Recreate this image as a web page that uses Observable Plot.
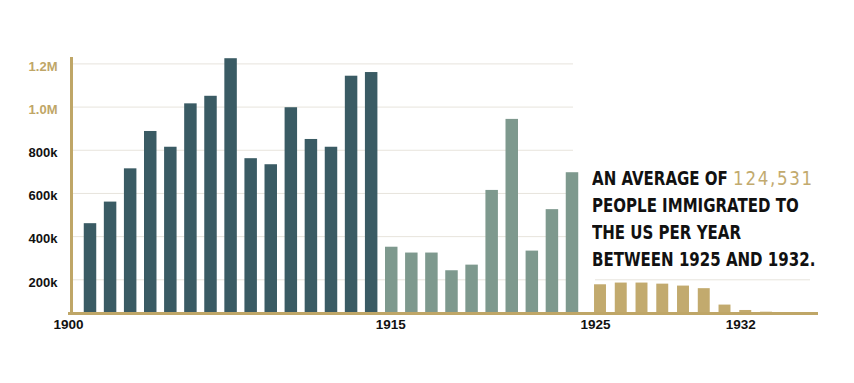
<!DOCTYPE html>
<html>
<head>
<meta charset="utf-8">
<script src="https://cdn.jsdelivr.net/npm/d3@7"></script>
<script src="https://cdn.jsdelivr.net/npm/@observablehq/plot@0.6"></script>
<style>
  html, body { margin: 0; padding: 0; background: #fff; }
  #wrap { position: relative; width: 854px; height: 383px; overflow: hidden; background: #fff; }
  #wrap svg { position: absolute; left: 0; top: 0; }
  #note {
    position: absolute; left: 592px; top: 165.4px;
    font-family: "DejaVu Sans Condensed", "DejaVu Sans", sans-serif;
    font-weight: 700; font-size: 20px; line-height: 27px; color: #111;
    white-space: nowrap;
    transform: scaleX(0.835); transform-origin: 0 0;
  }
  #note .num { font-family: "DejaVu Sans", sans-serif; color: #c2aa6e; font-weight: 400; letter-spacing: 2px; }
</style>
</head>
<body>
<div id="wrap">
  <div id="note">AN AVERAGE OF <span class="num">124,531</span><br>PEOPLE IMMIGRATED TO<br>THE US PER YEAR<br>BETWEEN 1925 AND 1932.</div>
</div>
<script>
// ---- data ----
const yearsEarly = [1900,1901,1902,1903,1904,1905,1906,1907,1908,1909,1910,1911,1912,1913,1914];
const valuesEarly = [460000,560000,714000,887000,814000,1015000,1050000,1224000,761000,733000,997000,850000,814000,1143000,1160000];
const yearsMid = [1915,1916,1917,1918,1919,1920,1921,1922,1923,1924];
const valuesMid = [351000,324000,324000,242000,268000,614000,943000,333000,525000,696000];
const yearsLate = [1925,1926,1927,1928,1929,1930,1931,1932,1933];
const valuesLate = [177000,185000,185000,180000,171000,159000,83000,58000,50000];

const yTicks = [200000,400000,600000,800000,1000000,1200000];
const yTickLabels = ["200k","400k","600k","800k","1.0M","1.2M"];
const xTicksLeft = [1900, 1915];
const xTicksRight = [1925, 1932];
const gridRight = [200000];

// ---- scale settings ----
const yFloor = 44000;
const yDomain = [yFloor, 1225000];

const colEarly = "#3a5b64";
const colMid = "#7e998e";
const colLate = "#c2aa6e";
const gold = "#bfa667";
const gridCol = "#e7e4dc";
const ink = "#111";
const tickFont = "Liberation Sans, Arial, sans-serif";

const rows = (ys, vs) => ys.map((y, i) => ({year: y, next: y + 1, value: vs[i]}));
const early = rows(yearsEarly, valuesEarly);
const mid = rows(yearsMid, valuesMid);
const late = rows(yearsLate, valuesLate);

const common = {
  width: 854, height: 383, marginTop: 58, marginBottom: 70,
  y: {domain: yDomain, axis: null},
  style: {background: "transparent", overflow: "visible"}
};

const left = Plot.plot({
  ...common,
  marginLeft: 71, marginRight: 281,
  x: {type: "linear", domain: [1899.554, 1924.55], axis: null},
  marks: [
    Plot.ruleY(yTicks, {stroke: gridCol, strokeWidth: 1}),
    Plot.rectY(early, {x1: "year", x2: "next", y1: yFloor, y2: "value", fill: colEarly, insetLeft: 3.8, insetRight: 3.8}),
    Plot.rectY(mid, {x1: "year", x2: "next", y1: yFloor, y2: "value", fill: colMid, insetLeft: 3.8, insetRight: 3.8}),
    Plot.frame({anchor: "left", stroke: gold, strokeWidth: 3}),
    Plot.ruleY([yFloor], {stroke: gold, strokeWidth: 3, insetLeft: -3, insetRight: -24}),
    Plot.text(yTicks.filter(d => d < 1000000), {y: d => d, text: d => yTickLabels[yTicks.indexOf(d)], frameAnchor: "left", textAnchor: "end", dx: -14, dy: 2.6, fill: ink, fontFamily: tickFont, fontWeight: 700, fontSize: 13}),
    Plot.text(yTicks.filter(d => d >= 1000000), {y: d => d, text: d => yTickLabels[yTicks.indexOf(d)], frameAnchor: "left", textAnchor: "end", dx: -14, dy: 2.6, fill: gold, fontFamily: tickFont, fontWeight: 700, fontSize: 13}),
    Plot.text([xTicksLeft[0]], {x: d => d + 0.5, text: d => String(d), frameAnchor: "bottom", dy: 15.3, dx: -22, fill: ink, fontFamily: tickFont, fontWeight: 700, fontSize: 13.5}),
    Plot.text([xTicksLeft[1]], {x: d => d + 0.5, text: d => String(d), frameAnchor: "bottom", dy: 15.3, dx: -1, fill: ink, fontFamily: tickFont, fontWeight: 700, fontSize: 13.5})
  ]
});

const right = Plot.plot({
  ...common,
  marginLeft: 595, marginRight: 44,
  x: {type: "linear", domain: [1925.259, 1935.62], axis: null},
  marks: [
    Plot.ruleY(gridRight, {stroke: gridCol, strokeWidth: 1}),
    Plot.rectY(late, {x1: "year", x2: "next", y1: yFloor, y2: "value", fill: colLate, insetLeft: 4.4, insetRight: 4.4}),
    Plot.ruleY([yFloor], {stroke: gold, strokeWidth: 3, insetLeft: -2, insetRight: -8}),
    Plot.text(xTicksRight, {x: d => d + 0.5, text: d => String(d), frameAnchor: "bottom", dy: 15.3, dx: -5, fill: ink, fontFamily: tickFont, fontWeight: 700, fontSize: 13.5})
  ]
});

const wrap = document.getElementById("wrap");
wrap.insertBefore(right, wrap.firstChild);
wrap.insertBefore(left, wrap.firstChild);
</script>
</body>
</html>
